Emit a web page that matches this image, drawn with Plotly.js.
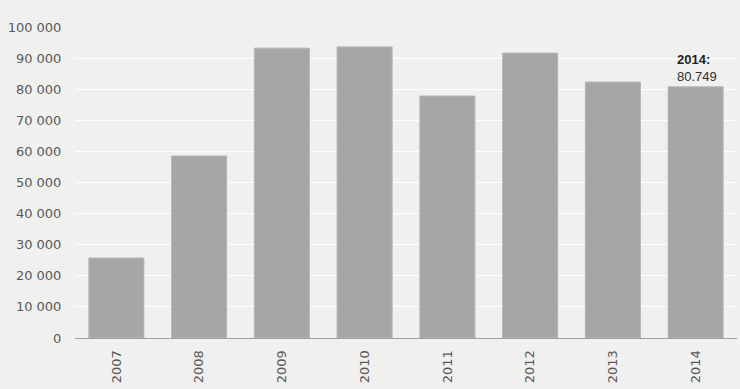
<!DOCTYPE html>
<html>
<head>
<meta charset="utf-8">
<script src="https://cdn.plot.ly/plotly-3.0.1.min.js"></script>
<style>html,body{margin:0;padding:0;background:#f0f1ef;}#chart{width:740px;height:389px;}</style>
</head>
<body>
<div id="chart"></div>
<script>
const years = ['2007','2008','2009','2010','2011','2012','2013','2014'];
const values = [25700, 58500, 93200, 93600, 77800, 91600, 82300, 80749];
const yTicks = [0,10000,20000,30000,40000,50000,60000,70000,80000,90000,100000];
const yTickText = ['0','10 000','20 000','30 000','40 000','50 000','60 000','70 000','80 000','90 000','100 000'];
const noteYear = '2014:';
const noteValue = '80.749';
const noteIndex = years.indexOf('2014');

const trace = {
  type: 'bar',
  x: years,
  y: values,
  marker: {color: '#a6a6a6', line: {color: '#b4b4b4', width: 1}},
  hoverinfo: 'x+y'
};
const layout = {
  width: 740, height: 389,
  margin: {l: 75, r: 3, t: 27, b: 51},
  paper_bgcolor: '#f0f1ef',
  plot_bgcolor: '#f0f1ef',
  bargap: 0.335,
  showlegend: false,
  font: {family: 'DejaVu Sans, Verdana, sans-serif', size: 13, color: '#595959'},
  xaxis: {
    type: 'category',
    range: [-0.5, years.length - 0.5],
    autorange: false,
    tickangle: -90,
    showgrid: false,
    showline: true, linecolor: '#a0a0a0', linewidth: 1,
    ticks: 'outside', ticklen: 6, tickcolor: 'rgba(0,0,0,0)',
    tickfont: {size: 13, color: '#595959'},
    fixedrange: true
  },
  yaxis: {
    range: [0, 100000],
    autorange: false,
    tickvals: yTicks,
    ticktext: yTickText,
    showgrid: true, gridcolor: '#ffffff', gridwidth: 1,
    zeroline: false,
    showline: false,
    ticks: 'outside', ticklen: 10, tickcolor: 'rgba(0,0,0,0)',
    tickfont: {size: 13, color: '#595959'},
    fixedrange: true
  },
  annotations: [
    {x: noteIndex, y: values[noteIndex], xref: 'x', yref: 'y', xshift: -21, yshift: 27, xanchor: 'left', yanchor: 'middle',
     text: '<b>' + noteYear + '</b>', showarrow: false, font: {family: 'Liberation Sans, Arial, sans-serif', size: 13, color: '#1e1e1e'}},
    {x: noteIndex, y: values[noteIndex], xref: 'x', yref: 'y', xshift: -21, yshift: 10, xanchor: 'left', yanchor: 'middle',
     text: noteValue, showarrow: false, font: {family: 'Liberation Sans, Arial, sans-serif', size: 13, color: '#2e2e2e'}}
  ]
};
Plotly.newPlot('chart', [trace], layout, {displayModeBar: false, staticPlot: true});
</script>
</body>
</html>
